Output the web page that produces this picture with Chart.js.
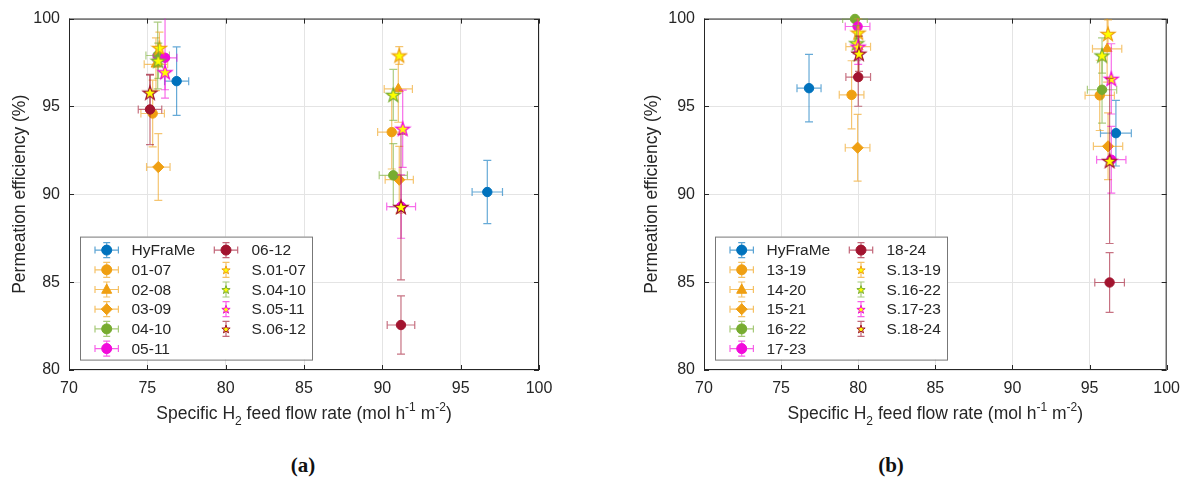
<!DOCTYPE html>
<html>
<head>
<meta charset="utf-8">
<script src="https://cdn.jsdelivr.net/npm/chart.js@4.4.1/dist/chart.umd.min.js"></script>
<style>
    body { margin: 0; background: #fff; width: 1189px; height: 487px; position: relative; overflow: hidden; }
    .panel { position: absolute; top: 0; width: 594px; height: 440px; }
    #panelA { left: 0; }
    #panelB { left: 595px; }
    .tag { position: absolute; top: 453px; width: 60px; text-align: center; font: bold 21px "Liberation Serif", serif; color: #111; }
</style>
</head>
<body>
<div class="panel" id="panelA"><canvas id="chartA" width="594" height="440"></canvas></div>
<div class="panel" id="panelB"><canvas id="chartB" width="594" height="440"></canvas></div>
<div class="tag" style="left:273px">(a)</div>
<div class="tag" style="left:861px">(b)</div>
<script>
// ---- data ----
const xTicks = [70, 75, 80, 85, 90, 95, 100];
const yTicks = [80, 85, 90, 95, 100];

// panel (a)
const namesA = ['HyFraMe', '01-07', '02-08', '03-09', '04-10', '05-11', '06-12', 'S.01-07', 'S.04-10', 'S.05-11', 'S.06-12'];
const xA = [[76.87, 96.70], [75.34, 90.60], [75.55, 91.02], [75.70, 91.08], [75.66, 90.70], [76.13, 91.20], [75.17, 91.19],
            [75.77, 91.08], [75.70, 90.70], [76.13, 91.30], [75.17, 91.19]];
const yA = [[96.44, 90.13], [94.60, 93.54], [97.40, 96.00], [91.55, 90.83], [97.90, 91.08], [97.77, 89.30], [94.83, 82.56],
            [98.33, 97.90], [97.60, 95.66], [96.95, 93.73], [95.78, 89.28]];
const xErrA = [[0.77, 0.97], [0.75, 0.90], [0.75, 0.90], [0.75, 0.90], [0.75, 0.90], [0.76, 0.92], [0.75, 0.88],
               [0, 0], [0, 0], [0, 0], [0, 0]];
const yErrA = [[1.95, 1.80], [1.90, 2.10], [1.50, 1.90], [1.90, 1.90], [1.90, 1.80], [2.30, 1.80], [2.00, 1.66],
               [0.90, 0.50], [1.00, 1.45], [1.00, 2.20], [1.00, 4.15]];

// panel (b)
const namesB = ['HyFraMe', '13-19', '14-20', '15-21', '16-22', '17-23', '18-24', 'S.13-19', 'S.16-22', 'S.17-23', 'S.18-24'];
const xB = [[76.81, 96.71], [79.57, 95.66], [80.00, 96.14], [79.96, 96.20], [79.79, 95.81], [79.96, 96.41], [80.00, 96.30],
            [80.00, 96.20], [79.90, 95.81], [80.00, 96.41], [80.05, 96.30]];
const yB = [[96.04, 93.48], [95.66, 95.63], [98.40, 98.28], [92.65, 92.73], [99.98, 95.95], [99.55, 91.97], [96.67, 84.98],
            [99.20, 99.13], [98.60, 97.90], [98.40, 96.57], [98.00, 91.90]];
const xErrB = [[0.78, 1.00], [0.80, 0.95], [0.80, 0.95], [0.80, 0.95], [0.80, 0.95], [0.80, 0.95], [0.80, 0.96],
               [0, 0], [0, 0], [0, 0], [0, 0]];
const yErrB = [[1.92, 1.87], [1.94, 2.00], [1.90, 1.90], [1.90, 1.90], [1.90, 1.90], [1.90, 1.90], [1.66, 1.70],
               [0.80, 0.80], [1.00, 1.00], [1.00, 2.00], [1.00, 4.70]];

// ---- styles ----
const COL = { blue: '#0072BD', orange: '#EF9F12', green: '#77AC30', magenta: '#F20ADB', red: '#A2142F' };
const seriesColor = [COL.blue, COL.orange, COL.orange, COL.orange, COL.green, COL.magenta, COL.red,
                     COL.orange, COL.green, COL.magenta, COL.red];
const seriesShape = ['circle', 'circle', 'triangle', 'rectRot', 'circle', 'circle', 'circle', 'star', 'star', 'star', 'star'];
const FONT = '"Liberation Sans", Arial, sans-serif';
const INK = '#262626';

function fade(hex, a) {
    const n = parseInt(hex.slice(1), 16);
    return `rgba(${n >> 16}, ${(n >> 8) & 255}, ${n & 255}, ${a})`;
}

function starPath(g, cx, cy, R) {
    g.beginPath();
    for (let k = 0; k < 10; k++) {
        const ang = -Math.PI / 2 + k * Math.PI / 5;
        const rad = k % 2 ? R * 0.4 : R;
        const px = cx + rad * Math.cos(ang), py = cy + rad * Math.sin(ang);
        if (k) g.lineTo(px, py); else g.moveTo(px, py);
    }
    g.closePath();
}

function drawMarker(g, shape, color, x, y, r) {
    g.save();
    g.fillStyle = color;
    g.strokeStyle = color;
    g.lineWidth = 1;
    if (shape === 'star') {
        starPath(g, x, y, r * 1.45);
        g.fillStyle = '#FFFF00';
        g.fill();
        g.stroke();
    } else {
        g.beginPath();
        if (shape === 'circle') {
            g.arc(x, y, r, 0, Math.PI * 2);
        } else if (shape === 'triangle') {
            g.moveTo(x, y - r * 1.1);
            g.lineTo(x + r, y + r * 0.75);
            g.lineTo(x - r, y + r * 0.75);
            g.closePath();
        } else {
            g.moveTo(x, y - r * 1.1);
            g.lineTo(x + r * 1.1, y);
            g.lineTo(x, y + r * 1.1);
            g.lineTo(x - r * 1.1, y);
            g.closePath();
        }
        g.fill();
        g.stroke();
    }
    g.restore();
}

function makeStar(edge) {
    const c = document.createElement('canvas');
    c.width = 18;
    c.height = 18;
    const g = c.getContext('2d');
    starPath(g, 9, 9.6, 7.4);
    g.fillStyle = '#FFFF00';
    g.fill();
    g.strokeStyle = edge;
    g.lineWidth = 1.2;
    g.stroke();
    return c;
}

function buildSets(xs, ys, exs, eys, names) {
    return names.map((name, i) => {
        const shape = seriesShape[i];
        const color = seriesColor[i];
        return {
            label: name,
            data: xs[i].map((xv, j) => ({ x: xv, y: ys[i][j], ex: exs[i][j], ey: eys[i][j] })),
            pointStyle: shape === 'star' ? makeStar(color) : shape,
            pointRadius: shape === 'circle' ? 4.7 : 5.6,
            backgroundColor: color,
            borderColor: color,
            pointBorderWidth: 1,
            barColor: fade(color, 0.6),
            showLine: false,
            clip: false,
            order: -i
        };
    });
}

// ---- plugins ----
const axesBox = {
    id: 'axesBox',
    beforeDatasetsDraw(chart) {
        const { ctx, chartArea: a, scales: { x, y } } = chart;
        ctx.save();
        ctx.strokeStyle = INK;
        ctx.lineWidth = 1;
        ctx.strokeRect(a.left + 0.5, a.top + 0.5, a.width - 1, a.height - 1);
        ctx.beginPath();
        xTicks.forEach(v => {
            const px = Math.round(x.getPixelForValue(v)) + 0.5;
            ctx.moveTo(px, a.bottom); ctx.lineTo(px, a.bottom - 5);
            ctx.moveTo(px, a.top); ctx.lineTo(px, a.top + 5);
        });
        yTicks.forEach(v => {
            const py = Math.round(y.getPixelForValue(v)) + 0.5;
            ctx.moveTo(a.left, py); ctx.lineTo(a.left + 5, py);
            ctx.moveTo(a.right, py); ctx.lineTo(a.right - 5, py);
        });
        ctx.stroke();
        ctx.restore();
    }
};

const errorBars = {
    id: 'errorBars',
    beforeDatasetDraw(chart, args) {
        const { ctx, chartArea: a, scales: { x, y } } = chart;
        const ds = chart.data.datasets[args.index];
        const cap = 4;
        ctx.save();
        ctx.beginPath();
        ctx.rect(a.left, a.top, a.width, a.height);
        ctx.clip();
        ctx.strokeStyle = ds.barColor;
        ctx.lineWidth = 1.2;
        ctx.beginPath();
        ds.data.forEach(p => {
            const px = x.getPixelForValue(p.x), py = y.getPixelForValue(p.y);
            if (p.ey) {
                const t = y.getPixelForValue(p.y + p.ey), b = y.getPixelForValue(p.y - p.ey);
                ctx.moveTo(px, t); ctx.lineTo(px, b);
                ctx.moveTo(px - cap, t); ctx.lineTo(px + cap, t);
                ctx.moveTo(px - cap, b); ctx.lineTo(px + cap, b);
            }
            if (p.ex) {
                const l = x.getPixelForValue(p.x - p.ex), r = x.getPixelForValue(p.x + p.ex);
                ctx.moveTo(l, py); ctx.lineTo(r, py);
                ctx.moveTo(l, py - cap); ctx.lineTo(l, py + cap);
                ctx.moveTo(r, py - cap); ctx.lineTo(r, py + cap);
            }
        });
        ctx.stroke();
        ctx.restore();
    }
};

const labelsAndLegend = {
    id: 'labelsAndLegend',
    afterDraw(chart, args, opts) {
        const { ctx, chartArea: a } = chart;
        ctx.save();
        ctx.fillStyle = INK;

        // y title
        ctx.save();
        ctx.translate(opts.yTitleX, (a.top + a.bottom) / 2);
        ctx.rotate(-Math.PI / 2);
        ctx.font = `17.5px ${FONT}`;
        ctx.textAlign = 'center';
        ctx.textBaseline = 'middle';
        ctx.fillText('Permeation efficiency (%)', 0, 0);
        ctx.restore();

        // x title with sub/superscripts
        const parts = [['Specific H', 0], ['2', 1], [' feed flow rate (mol h', 0], ['-1', -1], [' m', 0], ['-2', -1], [')', 0]];
        const fontOf = s => s ? `12px ${FONT}` : `17.5px ${FONT}`;
        let total = 0;
        parts.forEach(([t, s]) => { ctx.font = fontOf(s); total += ctx.measureText(t).width; });
        let cx = (a.left + a.right) / 2 - total / 2;
        const base = 419;
        ctx.textAlign = 'left';
        ctx.textBaseline = 'alphabetic';
        parts.forEach(([t, s]) => {
            ctx.font = fontOf(s);
            ctx.fillText(t, cx, base + (s === 1 ? 6 : s === -1 ? -8 : 0));
            cx += ctx.measureText(t).width;
        });

        // legend box
        const bx = a.left + 11, by = a.top + 218, bw = 232, bh = 123;
        ctx.fillStyle = '#fff';
        ctx.fillRect(bx, by, bw, bh);
        ctx.strokeStyle = '#777';
        ctx.lineWidth = 1;
        ctx.strokeRect(bx + 0.5, by + 0.5, bw, bh);
        ctx.font = `15.5px ${FONT}`;
        ctx.textBaseline = 'middle';
        chart.data.datasets.forEach((ds, i) => {
            const col = i < 6 ? 0 : 1;
            const row = i < 6 ? i : i - 6;
            const ix = bx + (col ? 146 : 26.7);
            const iy = by + 13.5 + row * 19.7;
            const color = seriesColor[i];
            const shape = seriesShape[i];
            ctx.strokeStyle = fade(color, 0.65);
            ctx.lineWidth = 1.2;
            ctx.beginPath();
            ctx.moveTo(ix, iy - 7.5); ctx.lineTo(ix, iy + 7.5);
            ctx.moveTo(ix - 3.5, iy - 7.5); ctx.lineTo(ix + 3.5, iy - 7.5);
            ctx.moveTo(ix - 3.5, iy + 7.5); ctx.lineTo(ix + 3.5, iy + 7.5);
            if (shape !== 'star') {
                ctx.moveTo(ix - 11.7, iy); ctx.lineTo(ix + 11.7, iy);
                ctx.moveTo(ix - 11.7, iy - 3.5); ctx.lineTo(ix - 11.7, iy + 3.5);
                ctx.moveTo(ix + 11.7, iy - 3.5); ctx.lineTo(ix + 11.7, iy + 3.5);
            }
            ctx.stroke();
            drawMarker(ctx, shape, color, ix, iy + (shape === 'star' ? 0.5 : 0), shape === 'star' ? 3 : 5);
            ctx.fillStyle = INK;
            ctx.fillText(ds.label, bx + (col ? 171.5 : 51.5), iy + 1);
        });
        ctx.restore();
    }
};

// ---- charts ----
function makeChart(id, datasets, padding, yTitleX) {
    return new Chart(document.getElementById(id), {
        type: 'scatter',
        data: { datasets: datasets },
        options: {
            responsive: false,
            animation: false,
            layout: { padding: padding },
            scales: {
                x: {
                    type: 'linear', min: 70, max: 100,
                    afterFit: s => { s.height = 70; },
                    border: { display: false },
                    grid: { color: '#E4E4E4', drawTicks: false },
                    ticks: { stepSize: 5, padding: 9, color: INK, font: { family: FONT, size: 16 } }
                },
                y: {
                    type: 'linear', min: 80, max: 100,
                    afterFit: s => { s.width = 69; },
                    border: { display: false },
                    grid: { color: '#E4E4E4', drawTicks: false },
                    ticks: { stepSize: 5, padding: 9, color: INK, font: { family: FONT, size: 16 } }
                }
            },
            plugins: {
                legend: { display: false },
                tooltip: { enabled: false },
                labelsAndLegend: { yTitleX: yTitleX }
            }
        },
        plugins: [axesBox, errorBars, labelsAndLegend]
    });
}

makeChart('chartA', buildSets(xA, yA, xErrA, yErrA, namesA), { top: 18, right: 55, bottom: 0, left: 0 }, 20);
makeChart('chartB', buildSets(xB, yB, xErrB, yErrB, namesB), { top: 18, right: 17, bottom: 0, left: 40 }, 57);
</script>
</body>
</html>
